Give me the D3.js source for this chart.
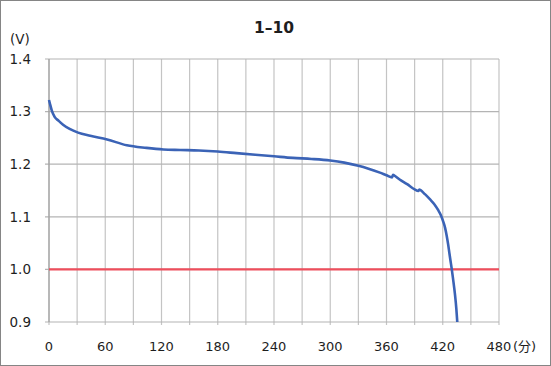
<!DOCTYPE html>
<html>
<head>
<meta charset="utf-8">
<script src="https://cdn.jsdelivr.net/npm/d3@7"></script>
<style>
  html, body { margin: 0; padding: 0; background: #fff; }
  svg text { font-family: "DejaVu Sans", "Noto Sans CJK JP", sans-serif; fill: #1e1e1e; }
</style>
</head>
<body>
<svg id="chart" width="551" height="366"></svg>
<script>
// discharge curve
const timeMin = [0, 1, 3, 6, 10, 15, 22, 31, 44, 62, 83, 104, 122, 140, 160, 180, 200, 220, 240,
  260, 280, 300, 315, 330, 340, 353, 360, 366, 367, 368, 374, 382, 390, 394, 395, 396, 401, 406.5,
  411, 415, 418, 420.5, 422.5, 424.2, 425.8, 427, 428.3, 429.5, 431, 433, 434.5, 435.5];
const voltage = [1.322, 1.315, 1.302, 1.29, 1.283, 1.275, 1.267, 1.26, 1.254, 1.247, 1.236, 1.231,
  1.228, 1.227, 1.226, 1.224, 1.221, 1.218, 1.215, 1.212, 1.21, 1.207, 1.203, 1.197, 1.192, 1.184,
  1.179, 1.175, 1.18, 1.179, 1.171, 1.162, 1.152, 1.149, 1.152, 1.151, 1.143, 1.133, 1.124, 1.113,
  1.103, 1.091, 1.079, 1.064, 1.047, 1.032, 1.016, 1.002, 0.982, 0.953, 0.925, 0.9];

const xTicks = [0, 60, 120, 180, 240, 300, 360, 420, 480];
const xGrid = d3.range(0, 481, 30);
const yTicks = [0.9, 1.0, 1.1, 1.2, 1.3, 1.4];
const cutoffV = 1.0;
const title = "1\u201310";

const svg = d3.select("#chart");
const W = 551, H = 366;
const margin = { left: 49, right: 52, top: 59, bottom: 44 };

const x = d3.scaleLinear().domain([0, 480]).range([margin.left, W - margin.right]);
const y = d3.scaleLinear().domain([0.9, 1.4]).range([H - margin.bottom, margin.top]);

// outer frame
svg.append("rect")
  .attr("x", 0.5).attr("y", 0.5)
  .attr("width", W - 1).attr("height", H - 1)
  .attr("fill", "#fff").attr("stroke", "#858585");

// grid
svg.append("g").selectAll("line").data(xGrid).join("line")
  .attr("x1", d => x(d)).attr("x2", d => x(d))
  .attr("y1", y(1.4)).attr("y2", y(0.9) + 3)
  .attr("stroke", "#c4c4c4").attr("stroke-width", 1.2);

svg.append("g").selectAll("line").data(yTicks).join("line")
  .attr("x1", x(0) - 4).attr("x2", x(480))
  .attr("y1", d => y(d)).attr("y2", d => y(d))
  .attr("stroke", "#b4b4b4").attr("stroke-width", 1.2);

// axis line
svg.append("line")
  .attr("x1", x(0)).attr("x2", x(0)).attr("y1", y(1.4)).attr("y2", y(0.9))
  .attr("stroke", "#a0a0a0").attr("stroke-width", 1.2);

// y labels
svg.append("g").selectAll("text").data(yTicks).join("text")
  .attr("x", 31).attr("y", d => y(d))
  .attr("dy", "0.36em")
  .attr("text-anchor", "end")
  .attr("font-size", 13.5)
  .text(d => d3.format(".1f")(d));

// x labels
svg.append("g").selectAll("text").data(xTicks).join("text")
  .attr("x", d => x(d)).attr("y", 346)
  .attr("dy", "0.36em")
  .attr("text-anchor", "middle")
  .attr("font-size", 13)
  .text(d => d);

svg.append("text")
  .attr("x", 513).attr("y", 346).attr("dy", "0.36em")
  .attr("font-size", 13)
  .text("(分)");

svg.append("text")
  .attr("x", 10).attr("y", 39).attr("dy", "0.36em")
  .attr("font-size", 13.5)
  .text("(V)");

svg.append("text")
  .attr("x", 274).attr("y", 27.5).attr("dy", "0.36em")
  .attr("text-anchor", "middle")
  .attr("font-size", 15.5).attr("font-weight", "bold")
  .text(title);

// 1.0 V cutoff line
svg.append("line")
  .attr("x1", x(0)).attr("x2", x(480))
  .attr("y1", y(cutoffV)).attr("y2", y(cutoffV))
  .attr("stroke", "#ee4e5c").attr("stroke-width", 2.2);

// discharge curve
const pts = timeMin.map((t, i) => [t, voltage[i]]);
const line = d3.line().x(d => x(d[0])).y(d => y(d[1])).curve(d3.curveMonotoneX);
svg.append("path")
  .datum(pts)
  .attr("d", line)
  .attr("fill", "none")
  .attr("stroke", "#3b63b6")
  .attr("stroke-width", 2.6)
  .attr("stroke-linejoin", "round");
</script>
</body>
</html>
